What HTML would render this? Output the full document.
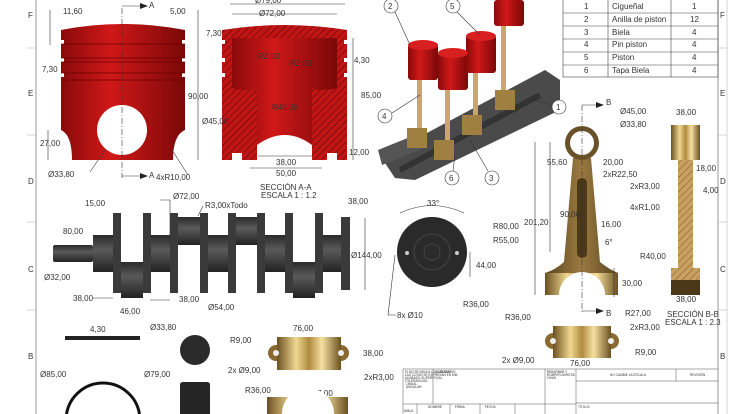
<!DOCTYPE html>
<html><head><meta charset="utf-8"><style>
html,body{margin:0;padding:0;background:#fff;width:736px;height:414px;overflow:hidden;}
svg{display:block;font-family:"Liberation Sans",sans-serif;}
text{fill:#333;font-size:8px;}
.d{stroke:#333;stroke-width:.6;fill:none;}
</style></head><body>
<svg width="736" height="414" viewBox="0 0 736 414" xmlns="http://www.w3.org/2000/svg">
<defs>
<linearGradient id="red" x1="0" x2="1"><stop offset="0" stop-color="#8a0a0a"/><stop offset=".4" stop-color="#d01818"/><stop offset="1" stop-color="#7a0808"/></linearGradient>
<linearGradient id="gold" x1="0" x2="1"><stop offset="0" stop-color="#6b5020"/><stop offset=".3" stop-color="#f0d890"/><stop offset=".5" stop-color="#b08a40"/><stop offset=".7" stop-color="#f5e0a0"/><stop offset="1" stop-color="#6b5020"/></linearGradient>
<linearGradient id="rod" x1="0" x2="1"><stop offset="0" stop-color="#5a4520"/><stop offset=".5" stop-color="#9a7a40"/><stop offset="1" stop-color="#5a4520"/></linearGradient>
<linearGradient id="dk" x1="0" y1="0" x2="0" y2="1"><stop offset="0" stop-color="#2a2a2a"/><stop offset=".4" stop-color="#5a5a5a"/><stop offset="1" stop-color="#222"/></linearGradient>
<pattern id="hatch" width="5" height="5" patternUnits="userSpaceOnUse" patternTransform="rotate(45)"><rect width="5" height="5" fill="#c01515"/><line x1="0" y1="0" x2="0" y2="5" stroke="#500" stroke-width="1"/></pattern>
<pattern id="hg" width="5" height="5" patternUnits="userSpaceOnUse" patternTransform="rotate(45)"><rect width="5" height="5" fill="#c8a060"/><line x1="0" y1="0" x2="0" y2="5" stroke="#6a4a20" stroke-width=".8"/></pattern>
</defs>
<!-- frame -->
<line x1="36" y1="0" x2="36" y2="414" stroke="#999" stroke-width="1"/>
<line x1="718" y1="0" x2="718" y2="414" stroke="#999" stroke-width="1"/>
<line x1="727" y1="0" x2="727" y2="414" stroke="#bbb" stroke-width=".6"/>
<g stroke="#bbb" stroke-width=".6"><line x1="27" y1="48" x2="36" y2="48"/><line x1="27" y1="135" x2="36" y2="135"/><line x1="27" y1="222" x2="36" y2="222"/><line x1="27" y1="310" x2="36" y2="310"/><line x1="718" y1="48" x2="727" y2="48"/><line x1="718" y1="135" x2="727" y2="135"/><line x1="718" y1="222" x2="727" y2="222"/><line x1="718" y1="310" x2="727" y2="310"/></g>
<g style="font-size:9px"><text x="28" y="18">F</text><text x="28" y="96">E</text><text x="28" y="184">D</text><text x="28" y="272">C</text><text x="28" y="359">B</text>
<text x="720" y="18">F</text><text x="720" y="96">E</text><text x="720" y="184">D</text><text x="720" y="272">C</text><text x="720" y="359">B</text></g>

<!-- piston front -->
<path d="M61 30 Q122 18 185 30 L185 130 Q173 135 173 160 L72 160 Q72 135 61 130 Z" fill="url(#red)"/>
<g fill="#fff"><rect x="58" y="40" width="6" height="4"/><rect x="182" y="40" width="6" height="4"/><rect x="58" y="58" width="6" height="4"/><rect x="182" y="58" width="6" height="4"/><rect x="58" y="73" width="6" height="4"/><rect x="182" y="73" width="6" height="4"/></g>
<g stroke="#600" stroke-width=".7"><line x1="61" y1="44" x2="185" y2="44"/><line x1="61" y1="58" x2="185" y2="58"/><line x1="61" y1="62" x2="185" y2="62"/><line x1="61" y1="73" x2="185" y2="73"/><line x1="61" y1="80" x2="185" y2="80"/></g>
<circle cx="122" cy="130" r="25" fill="#fff"/>
<line x1="122" y1="8" x2="122" y2="178" stroke="#333" stroke-width=".6" stroke-dasharray="6,2,1,2"/>
<path d="M122 6 L140 6" class="d"/><path d="M140 3 L148 6 L140 9Z" fill="#222"/><text x="149" y="8">A</text>
<path d="M122 176 L140 176" class="d"/><path d="M140 173 L148 176 L140 179Z" fill="#222"/><text x="149" y="178">A</text>
<text x="63" y="14">11,60</text><text x="170" y="14">5,00</text><text x="42" y="72">7,30</text><text x="188" y="99">90,00</text><text x="40" y="146">27,00</text><text x="48" y="177">Ø33,80</text><text x="156" y="180">4xR10,00</text>
<path d="M50 10 L50 45 M198 10 L198 160 M48 130 L48 160" class="d"/>
<path d="M105 150 L90 172 M172 150 L188 175" class="d"/>

<!-- section A-A -->
<path d="M222 30 Q285 20 347 30 L347 160 L222 160 Z" fill="url(#hatch)"/>
<path d="M232 38 L337 38 L337 88 Q320 92 312 88 L312 145 Q285 125 257 145 L257 88 Q250 92 232 88 Z" fill="url(#red)"/>
<path d="M257 145 Q285 125 312 145 L312 160 L257 160Z" fill="#fff"/>
<rect x="232" y="153" width="10" height="7" fill="#fff"/><rect x="327" y="153" width="10" height="7" fill="#fff"/>
<g fill="#fff"><rect x="219" y="40" width="6" height="4"/><rect x="344" y="40" width="6" height="4"/><rect x="219" y="58" width="6" height="4"/><rect x="344" y="58" width="6" height="4"/><rect x="219" y="73" width="6" height="4"/><rect x="344" y="73" width="6" height="4"/></g>
<text x="255" y="3">Ø79,00</text><text x="259" y="16">Ø72,00</text>
<path d="M230 4 L345 4 M232 14 L337 14 M258 156 L312 156 M250 168 L322 168 M353 38 L353 160" class="d"/>
<text x="206" y="36">7,30</text><text x="258" y="59">R2,00</text><text x="290" y="66">R2,00</text><text x="354" y="63">4,30</text><text x="361" y="98">85,00</text><text x="272" y="110">R40,00</text><text x="202" y="124">Ø45,00</text><text x="349" y="155">12,00</text><text x="276" y="165">38,00</text><text x="276" y="176">50,00</text>
<text x="260" y="190">SECCIÓN A-A</text><text x="261" y="198">ESCALA 1 : 1.2</text>

<!-- assembly -->
<path d="M383 160 L395 150 L545 70 L560 80 L560 110 L415 180 L395 178 Z" fill="#4a4a4a"/>
<path d="M378 150 L420 133 L424 148 L382 165Z" fill="#555"/>
<path d="M400 170 L540 95" stroke="#333" stroke-width="6"/>
<g fill="#c8a868"><rect x="417" y="80" width="5" height="60"/><rect x="445" y="90" width="5" height="58"/><rect x="473" y="70" width="5" height="60"/><rect x="501" y="25" width="5" height="70"/></g>
<g fill="#a08040"><rect x="407" y="128" width="20" height="20"/><rect x="434" y="140" width="20" height="20"/><rect x="462" y="115" width="20" height="20"/><rect x="495" y="90" width="20" height="20"/></g>
<g fill="url(#red)"><rect x="408" y="44" width="30" height="36" rx="3"/><rect x="438" y="52" width="30" height="38" rx="3"/><rect x="466" y="35" width="30" height="38" rx="3"/><rect x="494" y="0" width="30" height="26" rx="3"/></g>
<g fill="#d82020"><ellipse cx="423" cy="45" rx="15" ry="5"/><ellipse cx="453" cy="53" rx="15" ry="5"/><ellipse cx="481" cy="36" rx="15" ry="5"/></g>
<g class="d" fill="#fff"><circle cx="391" cy="6" r="7" fill="#fff"/><circle cx="453" cy="6" r="7" fill="#fff"/><circle cx="385" cy="116" r="7" fill="#fff"/><circle cx="559" cy="107" r="7" fill="#fff"/><circle cx="452" cy="178" r="7" fill="#fff"/><circle cx="492" cy="178" r="7" fill="#fff"/></g>
<text x="388" y="9">2</text><text x="450" y="9">5</text><text x="382" y="119">4</text><text x="556" y="110">1</text><text x="449" y="181">6</text><text x="489" y="181">3</text>
<path d="M395 12 L410 45 M457 12 L480 35 M392 113 L420 95 M552 105 L535 100 M453 171 L455 155 M488 171 L470 140" class="d"/>

<!-- table -->
<g stroke="#444" stroke-width=".6" fill="none"><rect x="563" y="-1" width="155" height="78"/><line x1="608" y1="0" x2="608" y2="77"/><line x1="671" y1="0" x2="671" y2="77"/><line x1="563" y1="13" x2="718" y2="13"/><line x1="563" y1="26" x2="718" y2="26"/><line x1="563" y1="39" x2="718" y2="39"/><line x1="563" y1="52" x2="718" y2="52"/><line x1="563" y1="65" x2="718" y2="65"/></g>
<g style="font-size:7.5px"><text x="584" y="9">1</text><text x="612" y="9">Cigueñal</text><text x="692" y="9">1</text>
<text x="584" y="22">2</text><text x="612" y="22">Anilla de piston</text><text x="690" y="22">12</text>
<text x="584" y="35">3</text><text x="612" y="35">Biela</text><text x="692" y="35">4</text>
<text x="584" y="47">4</text><text x="612" y="47">Pin piston</text><text x="692" y="47">4</text>
<text x="584" y="60">5</text><text x="612" y="60">Piston</text><text x="692" y="60">4</text>
<text x="584" y="73">6</text><text x="612" y="73">Tapa Biela</text><text x="692" y="73">4</text></g>

<!-- conrod -->
<path d="M573 158 L591 158 L600 262 Q610 270 618 273 L545 273 Q555 270 564 262 Z" fill="url(#rod)"/>
<rect x="577" y="178" width="10" height="80" rx="5" fill="#4a3818"/>
<rect x="545" y="273" width="73" height="22" fill="url(#gold)"/>
<path d="M559 295 A23 23 0 0 1 605 295 Z" fill="#fff"/>
<circle cx="582" cy="143" r="17" fill="#6a5228"/><circle cx="582" cy="143" r="12" fill="#fff"/>
<line x1="582" y1="105" x2="582" y2="312" stroke="#333" stroke-width=".6" stroke-dasharray="6,2,1,2"/>
<path d="M582 105 L598 105 M582 311 L598 311" class="d"/><path d="M596 102 L604 105 L596 108Z M596 308 L604 311 L596 314Z" fill="#222"/>
<text x="606" y="105">B</text><text x="606" y="316">B</text>
<text x="620" y="114">Ø45,00</text><text x="620" y="127">Ø33,80</text><text x="547" y="165">55,60</text><text x="603" y="165">20,00</text><text x="603" y="177">2xR22,50</text>
<text x="560" y="217">90,00</text><text x="524" y="225">201,20</text><text x="601" y="227">16,00</text><text x="605" y="245">6°</text><text x="640" y="259">R40,00</text><text x="622" y="286">30,00</text><text x="505" y="320">R36,00</text><text x="625" y="316">R27,00</text>
<path d="M535 142 L535 295 M550 142 L550 252 M614 268 L614 297" class="d"/>
<!-- section B-B -->
<rect x="671" y="125" width="29" height="35" fill="url(#gold)"/>
<rect x="678" y="160" width="15" height="108" fill="url(#hg)"/>
<rect x="671" y="268" width="29" height="27" fill="url(#hg)"/><rect x="671" y="280" width="29" height="15" fill="#4a3818"/>
<text x="676" y="115">38,00</text><text x="696" y="171">18,00</text><text x="630" y="189">2xR3,00</text><text x="703" y="193">4,00</text><text x="630" y="210">4xR1,00</text><text x="676" y="302">38,00</text>
<text x="667" y="317">SECCIÓN B-B</text><text x="665" y="325">ESCALA 1 : 2.3</text>

<!-- crankshaft -->
<g fill="url(#dk)">
<rect x="53" y="245" width="40" height="17" rx="2"/>
<rect x="93" y="235" width="20" height="37"/>
<rect x="121" y="262" width="22" height="36"/><rect x="151" y="235" width="19" height="37"/><rect x="178" y="217" width="22" height="28"/><rect x="208" y="235" width="20" height="37"/><rect x="236" y="217" width="21" height="28"/><rect x="265" y="235" width="20" height="37"/><rect x="293" y="262" width="22" height="36"/><rect x="323" y="235" width="18" height="37"/>
</g>
<g fill="#3a3a3a"><rect x="113" y="213" width="8" height="80"/><rect x="143" y="213" width="8" height="80"/><rect x="170" y="213" width="8" height="80"/><rect x="200" y="213" width="8" height="80"/><rect x="228" y="213" width="8" height="80"/><rect x="257" y="213" width="8" height="80"/><rect x="285" y="213" width="8" height="80"/><rect x="315" y="213" width="8" height="80"/><rect x="341" y="217" width="9" height="73"/></g>
<text x="85" y="206">15,00</text><text x="173" y="199">Ø72,00</text><text x="205" y="208">R3,00xTodo</text>
<path d="M160 200 L170 200 L170 245 M203 206 L198 216" class="d"/>
<text x="348" y="204">38,00</text><text x="63" y="234">80,00</text><text x="351" y="258">Ø144,00</text><text x="44" y="280">Ø32,00</text><text x="73" y="301">38,00</text><text x="179" y="302">38,00</text><text x="120" y="314">46,00</text><text x="208" y="310">Ø54,00</text>
<path d="M365 218 L365 290 M93 298 L113 298 M150 300 L170 300" class="d"/>

<!-- disk -->
<circle cx="432" cy="252" r="35" fill="#2a2a2a"/>
<circle cx="432" cy="252" r="18" fill="none" stroke="#444"/><circle cx="432" cy="252" r="8" fill="none" stroke="#444"/>
<circle cx="407" cy="253" r="2" fill="#ccc"/><circle cx="457" cy="253" r="2" fill="#ccc"/>
<path d="M400 213 Q432 198 464 213" class="d"/><text x="427" y="206">33°</text>
<text x="493" y="229">R80,00</text><text x="493" y="243">R55,00</text><text x="476" y="268">44,00</text><text x="463" y="307">R36,00</text><text x="397" y="318">8x Ø10</text>
<path d="M470 252 L470 277 M395 255 L388 315 L396 315" class="d"/>

<!-- ring / pin -->
<rect x="65" y="336" width="75" height="4" fill="#222"/><text x="90" y="332">4,30</text>
<circle cx="195" cy="350" r="15" fill="#2a2a2a"/><text x="150" y="330">Ø33,80</text>
<path d="M66.5 414 A37 37 0 0 1 139.5 414" fill="none" stroke="#111" stroke-width="3"/>
<text x="40" y="377">Ø85,00</text><text x="144" y="377">Ø79,00</text>
<path d="M180 414 L180 385 Q180 382 183 382 L207 382 Q210 382 210 385 L210 414Z" fill="#252525"/>
<!-- cap 1 -->
<circle cx="276" cy="353" r="8" fill="#8a6a30"/><circle cx="341" cy="353" r="8" fill="#8a6a30"/>
<rect x="277" y="337" width="64" height="33" fill="url(#gold)"/>
<circle cx="276" cy="353" r="3" fill="#eee"/><circle cx="341" cy="353" r="3" fill="#eee"/>
<text x="293" y="331">76,00</text><text x="230" y="343">R9,00</text><text x="228" y="373">2x Ø9,00</text><text x="363" y="356">38,00</text><text x="364" y="380">2xR3,00</text>
<text x="245" y="393">R36,00</text><text x="307" y="396">R27,00</text>
<rect x="267" y="397" width="81" height="17" fill="url(#gold)"/><path d="M282 414 A26 26 0 0 1 334 414Z" fill="#fff"/>
<!-- cap 2 -->
<circle cx="553" cy="341" r="8" fill="#8a6a30"/><circle cx="611" cy="341" r="8" fill="#8a6a30"/>
<rect x="553" y="326" width="58" height="32" fill="url(#gold)"/>
<circle cx="553" cy="341" r="3" fill="#eee"/><circle cx="611" cy="341" r="3" fill="#eee"/>
<text x="630" y="330">2xR3,00</text><text x="635" y="355">R9,00</text><text x="502" y="363">2x Ø9,00</text><text x="570" y="366">76,00</text>
<!-- title block -->
<g stroke="#555" stroke-width=".5" fill="none"><path d="M403 414 L403 369 L718 369"/><line x1="433" y1="369" x2="433" y2="404"/><line x1="545" y1="369" x2="545" y2="414"/><line x1="576" y1="369" x2="576" y2="414"/><line x1="576" y1="381" x2="718" y2="381"/><line x1="676" y1="369" x2="676" y2="381"/><line x1="403" y1="404" x2="576" y2="404"/><line x1="576" y1="403" x2="718" y2="403"/><line x1="417" y1="404" x2="417" y2="414"/><line x1="450" y1="404" x2="450" y2="414"/><line x1="480" y1="404" x2="480" y2="414"/><line x1="515" y1="404" x2="515" y2="414"/></g>
<g transform="scale(0.4)" style="font-size:7.5px"><text x="1012" y="932">SI NO SE INDICA LO CONTRARIO:</text><text x="1012" y="940">LAS COTAS SE EXPRESAN EN MM</text><text x="1012" y="947">ACABADO SUPERFICIAL:</text><text x="1012" y="955">TOLERANCIAS:</text><text x="1015" y="962">LINEAL:</text><text x="1015" y="970">ANGULAR:</text><text x="1087" y="932">ACABADO:</text><text x="1367" y="932">REBARBAR Y</text><text x="1367" y="940">ROMPER ARISTAS</text><text x="1367" y="947">VIVAS</text><text x="1525" y="940">NO CAMBIE LA ESCALA</text><text x="1725" y="940">REVISIÓN</text><text x="1445" y="1020">TÍTULO:</text><text x="1070" y="1020">NOMBRE</text><text x="1137" y="1020">FIRMA</text><text x="1212" y="1020">FECHA</text><text x="1010" y="1030">DIBUJ.</text></g>
</svg>
</body></html>
